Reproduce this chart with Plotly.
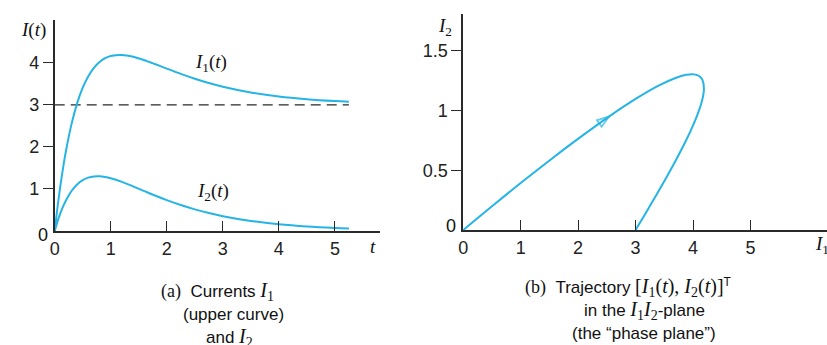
import plotly.graph_objects as go

# ---- data ----
t_vals = [0, 0.05, 0.1, 0.15, 0.2, 0.3, 0.4, 0.5, 0.6, 0.7, 0.8, 0.9, 1.0, 1.2, 1.4, 1.6, 1.8,
          2.0, 2.25, 2.5, 2.75, 3.0, 3.5, 4.0, 4.5, 5.0, 5.25]
i1_vals = [0, 0.565, 1.066, 1.508, 1.898, 2.543, 3.036, 3.409, 3.684, 3.883, 4.022, 4.112, 4.164,
           4.189, 4.146, 4.064, 3.966, 3.863, 3.738, 3.623, 3.521, 3.434, 3.297, 3.201, 3.137,
           3.092, 3.075]
i2_vals = [0, 0.224, 0.418, 0.584, 0.727, 0.951, 1.107, 1.210, 1.270, 1.298, 1.302, 1.286, 1.256,
           1.169, 1.062, 0.949, 0.838, 0.734, 0.617, 0.514, 0.427, 0.353, 0.240, 0.162, 0.109,
           0.073, 0.060]
# tail of the trajectory approaching the equilibrium (3, 0)
tail_i1 = [3.041, 3.008, 3.0]
tail_i2 = [0.033, 0.007, 0.0]
steady_state = 3
arrow_index = 5  # trajectory point where the direction arrow sits

left_xticks = [0, 1, 2, 3, 4, 5]
left_yticks = [1, 2, 3, 4]
right_xticks = [0, 1, 2, 3, 4, 5]
right_yticks = [0.5, 1, 1.5]
right_yticktext = ["0.5", "1", "1.5"]

BLUE = "#25B4E6"
AX = "#2a2a2a"
SANS = "Liberation Sans"
SERIF = "Liberation Serif"

phase_i1 = i1_vals + tail_i1
phase_i2 = i2_vals + tail_i2

fig = go.Figure()
fig.add_trace(go.Scatter(x=t_vals, y=[steady_state] * len(t_vals), mode="lines",
                         line=dict(color=AX, width=1.4, dash="10px,6px"),
                         xaxis="x", yaxis="y", hoverinfo="skip"))
fig.add_trace(go.Scatter(x=t_vals, y=i1_vals, mode="lines", line=dict(color=BLUE, width=2, shape="spline"),
                         xaxis="x", yaxis="y"))
fig.add_trace(go.Scatter(x=t_vals, y=i2_vals, mode="lines", line=dict(color=BLUE, width=2, shape="spline"),
                         xaxis="x", yaxis="y"))
fig.add_trace(go.Scatter(x=phase_i1, y=phase_i2, mode="lines", line=dict(color=BLUE, width=2, shape="spline"),
                         xaxis="x2", yaxis="y2"))
fig.add_trace(go.Scatter(x=phase_i1[arrow_index - 1:arrow_index + 1], y=phase_i2[arrow_index - 1:arrow_index + 1],
                         mode="markers",
                         marker=dict(symbol="arrow-open", size=[0, 13], color=BLUE, angleref="previous",
                                     line=dict(color=BLUE, width=1.8)),
                         xaxis="x2", yaxis="y2"))

W, H = 827, 345


def px(x):
    return x / W


def py(y):
    return 1 - y / H


common = dict(showgrid=False, zeroline=False, showline=True, linecolor=AX, linewidth=1.5,
              tickcolor=AX, tickwidth=1.3, ticklen=10,
              tickfont=dict(family=SANS, size=18, color="#222"), fixedrange=True)

fig.update_layout(
    width=W, height=H, margin=dict(l=0, r=0, t=0, b=0),
    paper_bgcolor="white", plot_bgcolor="white", showlegend=False,
    xaxis=dict(domain=[px(50), px(377)], range=[0, 5.8], anchor="y",
               tickvals=left_xticks, ticks="inside", ticklabelstandoff=1, **common),
    yaxis=dict(domain=[py(231), py(20)], range=[0, 5.02], anchor="x",
               tickvals=left_yticks, ticks="outside", ticklabelstandoff=0, **common),
    xaxis2=dict(domain=[px(461), 1.0], range=[0, (827 - 461) / 57.8], anchor="y2",
                tickvals=right_xticks, ticks="inside", ticklabelstandoff=1, **common),
    yaxis2=dict(domain=[py(230), py(14)], range=[0, 1.807], anchor="x2",
                tickvals=right_yticks, ticktext=right_yticktext, ticks="outside", ticklabelstandoff=0, **common),
)


def note(text, x, y, size=17, family=SANS, xanchor="center"):
    fig.add_annotation(text=text, x=px(x), y=py(y), xref="paper", yref="paper",
                       xanchor=xanchor, yanchor="middle", showarrow=False,
                       font=dict(family=family, size=size, color="#111"))


def ser(s, size=18):
    return f'<span style="font-family:{SERIF};font-size:{size}px">{s}</span>'


# axis titles / curve labels
note("<i>I</i>(<i>t</i>)", 29, 30, size=19, family=SERIF)
note("<i>t</i>", 370, 246, size=19, family=SERIF)
note("<i>I</i><sub>1</sub>(<i>t</i>)", 207, 63, size=19, family=SERIF)
note("<i>I</i><sub>2</sub>(<i>t</i>)", 209, 192, size=19, family=SERIF)
note("0", 38, 235, size=18)
note("<i>I</i><sub>2</sub>", 443, 27, size=19, family=SERIF)
note("<i>I</i><sub>1</sub>", 813, 245, size=19, family=SERIF, xanchor="left")
note("0", 449, 226, size=18)

# captions (a)
note(ser("(a)") + "&nbsp;&nbsp;Currents " + ser("<i>I</i><sub>1</sub>", 20), 214, 291)
note("(upper curve)", 230, 314)
note("and " + ser("<i>I</i><sub>2</sub>", 20), 226, 337)

# captions (b)
note(ser("(b)") + "&nbsp;&nbsp;Trajectory "
     + ser("[<i>I</i><sub>1</sub>(<i>t</i>), <i>I</i><sub>2</sub>(<i>t</i>)]", 20)
     + "<sup>T</sup>", 627, 287)
note("in the " + ser("<i>I</i><sub>1</sub><i>I</i><sub>2</sub>", 20) + "-plane", 643, 310)
note("(the \u201cphase plane\u201d)", 643, 333)

fig.write_html("out.html", config={"displayModeBar": False},
               post_script="document.body.style.margin='0px';document.body.style.overflow='hidden';")
